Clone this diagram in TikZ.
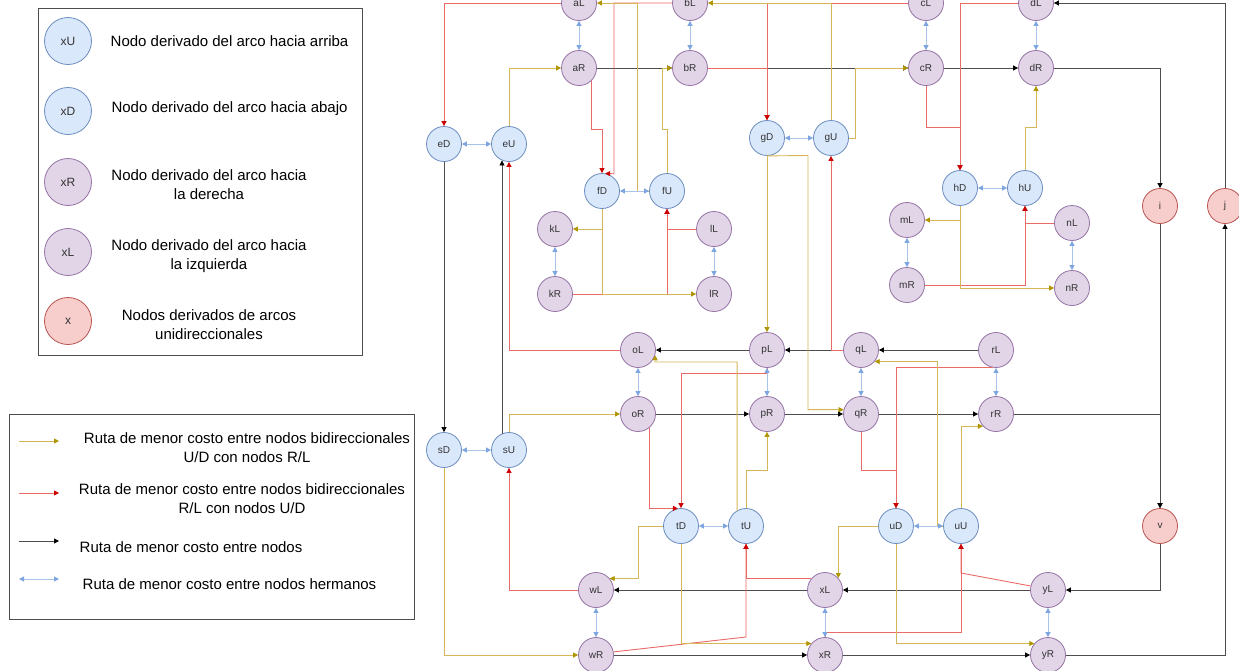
\documentclass[tikz,border=0pt]{standalone}
\usepackage{fontspec}
\setmainfont{Liberation Sans}
\usetikzlibrary{arrows.meta,calc}
\definecolor{blueF}{HTML}{DAE8FC}
\definecolor{blueS}{HTML}{6C8EBF}
\definecolor{purF}{HTML}{E1D5E7}
\definecolor{purS}{HTML}{9673A6}
\definecolor{redF}{HTML}{F8CECC}
\definecolor{redS}{HTML}{B85450}
\definecolor{ylL}{HTML}{D6B656}
\definecolor{ylA}{HTML}{B09500}
\definecolor{rdL}{HTML}{EA6B66}
\definecolor{rdA}{HTML}{CC0000}
\definecolor{bkL}{HTML}{4D4D4D}
\definecolor{blL}{HTML}{A9C4EB}
\definecolor{blA}{HTML}{7EA6E0}
\definecolor{txt}{HTML}{333333}
\definecolor{boxc}{HTML}{4D4D4D}
\begin{document}
\begin{tikzpicture}[x=1pt,y=-1pt,
 nd/.style={circle,minimum size=35pt,inner sep=0pt,line width=0.8pt,font=\fontsize{10}{12}\selectfont,text=txt},
 U/.style={nd,draw=blueS,fill=blueF},
 P/.style={nd,draw=purS,fill=purF},
 Rn/.style={nd,draw=redS,fill=redF},
 lg/.style={minimum size=47pt,font=\fontsize{12}{14}\selectfont},
 lt/.style={align=center,font=\fontsize{15}{19}\selectfont,text=black,inner sep=0pt},
 yl/.style={draw=ylL,line width=0.9pt,-{Triangle[length=5pt,width=5pt,color=ylA]}},
 rd/.style={draw=rdL,line width=0.9pt,-{Triangle[length=5pt,width=5pt,color=rdA]}},
 bk/.style={draw=bkL,line width=0.9pt,-{Triangle[length=5pt,width=5pt,color=black]}},
 bl/.style={draw=blL,line width=1pt,{Triangle[length=5pt,width=5pt,color=blA]}-{Triangle[length=5pt,width=5pt,color=blA]}},
 legbox/.style={draw=boxc,line width=0.8pt}
]
\useasboundingbox (0,0) rectangle (1239,670);
\clip (0,0) rectangle (1239,670);
\fill[white] (0,0) rectangle (1239,670);

% ---------- legend 1 ----------
\node[legbox,minimum width=324pt,minimum height=347pt,inner sep=0pt] (box1) at (200,181.5) {};
\node[U,lg] (lxU) at (68,41) {xU};
\node[U,lg] (lxD) at (68,111) {xD};
\node[P,lg] (lxR) at (68,182) {xR};
\node[P,lg] (lxL) at (68,252) {xL};
\node[Rn,lg] (lx) at (68,321) {x};
\node[lt] (t1) at (229.5,41) {Nodo derivado del arco hacia arriba};
\node[lt] (t2) at (229.5,109) {Nodo derivado del arco hacia abajo};
\node[lt] (t3) at (209,185) {Nodo derivado del arco hacia\\la derecha};
\node[lt] (t4) at (209,256) {Nodo derivado del arco hacia\\la izquierda};
\node[lt] (t5) at (209,325) {Nodos derivados de arcos\\unidireccionales};

% ---------- legend 2 ----------
\node[legbox,minimum width=405pt,minimum height=205pt,inner sep=0pt] (box2) at (211.5,517) {};
\coordinate (ya) at (19,441); \coordinate (yb) at (59,441);
\coordinate (ra) at (19,493); \coordinate (rb) at (59,493);
\coordinate (ka) at (19,541); \coordinate (kb) at (59,541);
\coordinate (ba) at (19,579); \coordinate (bb) at (59,579);
\draw[yl] (ya) -- (yb);
\draw[rd] (ra) -- (rb);
\draw[bk] (ka) -- (kb);
\draw[bl] (ba) -- (bb);
\node[lt] (t6) at (247,447.5) {Ruta de menor costo entre nodos bidireccionales\\U/D con nodos R/L};
\node[lt] (t7) at (242,499) {Ruta de menor costo entre nodos bidireccionales\\R/L con nodos U/D};
\node[lt] (t8) at (191,547) {Ruta de menor costo entre nodos};
\node[lt] (t9) at (229.5,584) {Ruta de menor costo entre nodos hermanos};

% ---------- nodes ----------
\node[P] (aL) at (579,3) {aL};
\node[P] (bL) at (690,3) {bL};
\node[P] (cL) at (926,3) {cL};
\node[P] (dL) at (1036,3) {dL};
\node[P] (aR) at (579,68) {aR};
\node[P] (bR) at (690,68) {bR};
\node[P] (cR) at (926,68) {cR};
\node[P] (dR) at (1036,68) {dR};
\node[U] (eD) at (444,144) {eD};
\node[U] (eU) at (509,144) {eU};
\node[U] (gD) at (767,138) {gD};
\node[U] (gU) at (831,138) {gU};
\node[U] (fD) at (602,191) {fD};
\node[U] (fU) at (667,191) {fU};
\node[U] (hD) at (960,188) {hD};
\node[U] (hU) at (1025,188) {hU};
\node[P] (kL) at (555,229) {kL};
\node[P] (lL) at (714,229) {lL};
\node[P] (kR) at (555,294) {kR};
\node[P] (lR) at (714,294) {lR};
\node[P] (mL) at (907,220) {mL};
\node[P] (nL) at (1072,223) {nL};
\node[P] (mR) at (907,285) {mR};
\node[P] (nR) at (1072,288) {nR};
\node[Rn] (nI) at (1160,206) {i};
\node[Rn] (nJ) at (1225,206) {j};
\node[P] (oL) at (638,350) {oL};
\node[P] (pL) at (767,350) {pL};
\node[P] (qL) at (861,350) {qL};
\node[P] (rL) at (996,350) {rL};
\node[P] (oR) at (638,414) {oR};
\node[P] (pR) at (767,414) {pR};
\node[P] (qR) at (861,414) {qR};
\node[P] (rR) at (996,414) {rR};
\node[U] (sD) at (444,450) {sD};
\node[U] (sU) at (509,450) {sU};
\node[U] (tD) at (681,526) {tD};
\node[U] (tU) at (746,526) {tU};
\node[U] (uD) at (896,526) {uD};
\node[U] (uU) at (961,526) {uU};
\node[Rn] (nV) at (1160,526) {v};
\node[P] (wL) at (596,590) {wL};
\node[P] (xL) at (825,590) {xL};
\node[P] (yL) at (1048,590) {yL};
\node[P] (wR) at (596,655) {wR};
\node[P] (xR) at (825,655) {xR};
\node[P] (yR) at (1048,655) {yR};

% ---------- black ----------
\draw[bk] (aR) -- (bR);
\draw[bk] (bR) -- (cR);
\draw[bk] (cR) -- (dR);
\draw[bk] (dR.east) -| (nI.north);
\draw[bk] (nJ.north) |- (dL.east);
\draw[bk] (eD) -- (sD);
\draw[bk] (sU.113) -- (eU.247);
\draw[bk] (qL) -- (pL);
\draw[bk] (pL) -- (oL);
\draw[bk] (rL) -- (qL);
\draw[bk] (oR) -- (pR);
\draw[bk] (pR) -- (qR);
\draw[bk] (qR) -- (rR);
\draw[bk] (rR.east) -| (nV.north);
\draw[bk] (nI) -- (nV);
\draw[bk] (nV.south) |- (yL.east);
\draw[bk] (yL) -- (xL);
\draw[bk] (xL) -- (wL);
\draw[bk] (wR) -- (xR);
\draw[bk] (xR) -- (yR);
\draw[bk] (yR.east) -| (nJ.south);

% ---------- red ----------
\draw[rd] (aL.west) -| (eD.north);
\draw[rd] (aR.-45) |- (602,129) -- (fD.north);
\draw[rd] (bL.west) -| (614,173.8) -- (fD.80);
\draw[rd] (bR.east) -| (gD.north);
\draw[rd] (cL.west) -| (gD.north);
\draw[rd] (dL.west) -| (hD.north);
\draw[rd] (cR.south) -- (926,127) -| (hD.north);
\draw[rd] (kR.east) -| (fU.south);
\draw[rd] (lL.west) -| (fU.south);
\draw[rd] (mR.east) -| (hU.south);
\draw[rd] (nL.west) -| (hU.south);
\draw[rd] (qL.west) -| (gU.south);
\draw[rd] (oL.west) -| (eU.south);
\draw[rd] (wL.west) -| (sU.south);
\draw[rd] (oR.-50) |- (tD.100);
\draw[rd] (pL.south) -- (767,373) -| (tD.north);
\draw[rd] (wR.10) -- (746,637) -- (tU.south);
\draw[rd] (xL.140) -| (tU.south);
\draw[rd] (xR.north) -- (825,632) -| (uU.south);
\draw[rd] (yL.167) -- (961,573) -- (uU.south);
\draw[rd] (qR.south) -- (861,470) -| (uD.north);
\draw[rd] (rL.260) -| (uD.north);

% ---------- yellow ----------
\draw[yl] (eU.north) |- (aR.west);
\draw[yl] (fU.north) |- (662,129) |- (bR.west);
\draw[yl] (fU.west) -- (637,191) |- (aL.east);
\draw[yl] (gU.north) |- (bL.east);
\draw[yl] (gU.east) -- (855,138) |- (cR.west);
\draw[yl] (gD) -- (pL);
\draw[yl] (gD.south) -- (808,155.5) |- (qR.166);
\draw[yl] (hU.north) |- (1036,127) -- (dR.south);
\draw[yl] (hD.south) |- (mL.east);
\draw[yl] (hD.south) |- (nR.west);
\draw[yl] (fD.south) |- (kL.east);
\draw[yl] (fD.south) |- (lR.west);
\draw[yl] (sU.north) |- (oR.west);
\draw[yl] (sD.south) |- (wR.west);
\draw[yl] (tU.north) |- (767,470) -- (pR.south);
\draw[yl] (tU.120) |- (655,362) -- (oL.-17);
\draw[yl] (tD.west) -- (638,526) |- (wL.40);
\draw[yl] (tD.south) |- (xR.140);
\draw[yl] (uD.west) -| (xL.42);
\draw[yl] (uD.south) |- (yR.140);
\draw[yl] (uU.north) |- (rR.223);
\draw[yl] (uU.west) -- (937,526) |- (qL.-40);

% ---------- blue ----------
\foreach \a/\b in {aL/aR,bL/bR,cL/cR,dL/dR,eD/eU,gD/gU,fD/fU,hD/hU,kL/kR,lL/lR,mL/mR,nL/nR,oL/oR,pL/pR,qL/qR,rL/rR,sD/sU,tD/tU,uD/uU,wL/wR,xL/xR,yL/yR}
  \draw[bl] (\a) -- (\b);
\end{tikzpicture}
\end{document}
